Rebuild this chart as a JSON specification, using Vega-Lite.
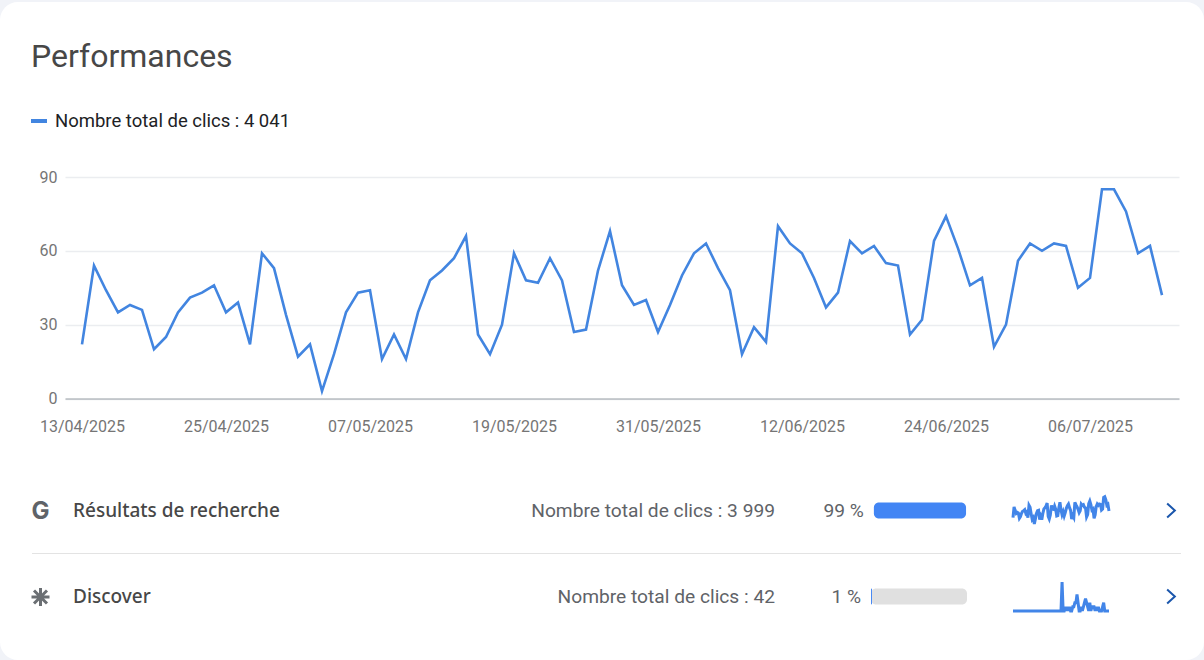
{"$schema":"https://vega.github.io/schema/vega-lite/v6.json","width":1204,"height":660,"autosize":{"type":"fit","contains":"padding"},"padding":{"top":2,"left":0,"right":0,"bottom":0},"background":"#f1f3f8","view":{"fill":"#ffffff","stroke":null,"cornerRadius":18},"title":{"text":"Performances","anchor":"start","frame":"group","orient":"top","offset":-97,"dx":31,"font":"Roboto","fontSize":32,"fontWeight":400,"color":"#474747","baseline":"alphabetic"},"datasets":{"daily":[
{"date":"2025-04-13","total":22,"search":22,"discover":0},{"date":"2025-04-14","total":54,"search":54,"discover":0},{"date":"2025-04-15","total":44,"search":44,"discover":0},{"date":"2025-04-16","total":35,"search":35,"discover":0},{"date":"2025-04-17","total":38,"search":38,"discover":0},{"date":"2025-04-18","total":36,"search":36,"discover":0},{"date":"2025-04-19","total":20,"search":20,"discover":0},{"date":"2025-04-20","total":25,"search":25,"discover":0},{"date":"2025-04-21","total":35,"search":35,"discover":0},{"date":"2025-04-22","total":41,"search":41,"discover":0},{"date":"2025-04-23","total":43,"search":43,"discover":0},{"date":"2025-04-24","total":46,"search":46,"discover":0},{"date":"2025-04-25","total":35,"search":35,"discover":0},{"date":"2025-04-26","total":39,"search":39,"discover":0},{"date":"2025-04-27","total":22,"search":22,"discover":0},{"date":"2025-04-28","total":59,"search":59,"discover":0},{"date":"2025-04-29","total":53,"search":53,"discover":0},{"date":"2025-04-30","total":34,"search":34,"discover":0},
{"date":"2025-05-01","total":17,"search":17,"discover":0},{"date":"2025-05-02","total":22,"search":22,"discover":0},{"date":"2025-05-03","total":3,"search":3,"discover":0},{"date":"2025-05-04","total":18,"search":18,"discover":0},{"date":"2025-05-05","total":35,"search":35,"discover":0},{"date":"2025-05-06","total":43,"search":43,"discover":0},{"date":"2025-05-07","total":44,"search":44,"discover":0},{"date":"2025-05-08","total":16,"search":16,"discover":0},{"date":"2025-05-09","total":26,"search":26,"discover":0},{"date":"2025-05-10","total":16,"search":16,"discover":0},{"date":"2025-05-11","total":35,"search":35,"discover":0},{"date":"2025-05-12","total":48,"search":48,"discover":0},{"date":"2025-05-13","total":52,"search":52,"discover":0},{"date":"2025-05-14","total":57,"search":57,"discover":0},{"date":"2025-05-15","total":66,"search":66,"discover":0},{"date":"2025-05-16","total":26,"search":26,"discover":0},{"date":"2025-05-17","total":18,"search":18,"discover":0},{"date":"2025-05-18","total":30,"search":30,"discover":0},{"date":"2025-05-19","total":59,"search":59,"discover":0},{"date":"2025-05-20","total":48,"search":48,"discover":0},{"date":"2025-05-21","total":47,"search":47,"discover":0},{"date":"2025-05-22","total":57,"search":57,"discover":0},{"date":"2025-05-23","total":48,"search":48,"discover":0},{"date":"2025-05-24","total":27,"search":27,"discover":0},{"date":"2025-05-25","total":28,"search":28,"discover":0},{"date":"2025-05-26","total":52,"search":52,"discover":0},{"date":"2025-05-27","total":68,"search":68,"discover":0},{"date":"2025-05-28","total":46,"search":46,"discover":0},{"date":"2025-05-29","total":38,"search":31,"discover":7},{"date":"2025-05-30","total":40,"search":40,"discover":0},{"date":"2025-05-31","total":27,"search":27,"discover":0},
{"date":"2025-06-01","total":38,"search":37,"discover":1},{"date":"2025-06-02","total":50,"search":50,"discover":0},{"date":"2025-06-03","total":59,"search":58,"discover":1},{"date":"2025-06-04","total":63,"search":63,"discover":0},{"date":"2025-06-05","total":53,"search":52,"discover":1},{"date":"2025-06-06","total":44,"search":44,"discover":0},{"date":"2025-06-07","total":18,"search":18,"discover":0},{"date":"2025-06-08","total":29,"search":28,"discover":1},{"date":"2025-06-09","total":23,"search":22,"discover":1},{"date":"2025-06-10","total":70,"search":68,"discover":2},{"date":"2025-06-11","total":63,"search":61,"discover":2},{"date":"2025-06-12","total":59,"search":55,"discover":4},{"date":"2025-06-13","total":49,"search":47,"discover":2},{"date":"2025-06-14","total":37,"search":37,"discover":0},{"date":"2025-06-15","total":43,"search":43,"discover":0},{"date":"2025-06-16","total":64,"search":63,"discover":1},{"date":"2025-06-17","total":59,"search":59,"discover":0},{"date":"2025-06-18","total":62,"search":61,"discover":1},{"date":"2025-06-19","total":55,"search":53,"discover":2},{"date":"2025-06-20","total":54,"search":51,"discover":3},{"date":"2025-06-21","total":26,"search":24,"discover":2},{"date":"2025-06-22","total":32,"search":31,"discover":1},{"date":"2025-06-23","total":64,"search":64,"discover":0},{"date":"2025-06-24","total":74,"search":72,"discover":2},{"date":"2025-06-25","total":61,"search":61,"discover":0},{"date":"2025-06-26","total":46,"search":45,"discover":1},{"date":"2025-06-27","total":49,"search":48,"discover":1},{"date":"2025-06-28","total":21,"search":20,"discover":1},{"date":"2025-06-29","total":30,"search":30,"discover":0},{"date":"2025-06-30","total":56,"search":55,"discover":1},
{"date":"2025-07-01","total":63,"search":63,"discover":0},{"date":"2025-07-02","total":60,"search":59,"discover":1},{"date":"2025-07-03","total":63,"search":63,"discover":0},{"date":"2025-07-04","total":62,"search":62,"discover":0},{"date":"2025-07-05","total":45,"search":45,"discover":0},{"date":"2025-07-06","total":49,"search":48,"discover":1},{"date":"2025-07-07","total":85,"search":83,"discover":2},{"date":"2025-07-08","total":85,"search":85,"discover":0},{"date":"2025-07-09","total":76,"search":76,"discover":0},{"date":"2025-07-10","total":59,"search":59,"discover":0},{"date":"2025-07-11","total":62,"search":62,"discover":0},{"date":"2025-07-12","total":42,"search":42,"discover":0}],
"rows":[{"source":"Résultats de recherche","clicks":"Nombre total de clics : 3 999","share":"99 %","start":3,"end":99},{"source":"Discover","clicks":"Nombre total de clics : 42","share":"1 %","start":0,"end":100}],
"shareBars":[{"source":"Résultats de recherche","segment":"share","start":3,"end":99},{"source":"Discover","segment":"rest","start":0,"end":100},{"source":"Discover","segment":"share","start":0,"end":1}],
"divider":[{"source":"divider"}]},
"layer":[
{"data":{"name":"daily"},"mark":{"type":"line","strokeWidth":2.6,"strokeJoin":"miter","interpolate":"linear"},"encoding":{
"x":{"field":"date","type":"temporal","title":null,"scale":{"type":"utc","domain":["2025-04-11T14:00:00Z","2025-07-13T10:00:00Z"],"range":[65,1179]},"axis":{"values":["2025-04-13","2025-04-25","2025-05-07","2025-05-19","2025-05-31","2025-06-12","2025-06-24","2025-07-06"],"format":"%d/%m/%Y","offset":-261.5,"grid":false,"ticks":false,"domainColor":"#9aa0a6","domainWidth":1,"labelFont":"Roboto","labelFontSize":16,"labelColor":"#757575","labelPadding":20,"labelFlush":false,"labelOverlap":false}},
"y":{"field":"total","type":"quantitative","title":null,"scale":{"domain":[0,90],"range":[396.5,175]},"axis":{"values":[0,30,60,90],"offset":-65,"grid":true,"gridColor":"#ebedf0","gridWidth":1.3,"ticks":false,"domain":false,"labelFont":"Roboto","labelFontSize":16,"labelColor":"#757575","labelPadding":8}},
"color":{"datum":"Nombre total de clics : 4 041","scale":{"range":["#4285e0"]},"legend":{"title":null,"orient":"none","legendX":29,"legendY":109,"symbolType":"stroke","symbolSize":256,"symbolStrokeWidth":4,"labelFont":"Roboto","labelFontSize":18.5,"labelColor":"#202124","labelOffset":6,"labelLimit":400}}}},
{"data":{"name":"daily"},"mark":{"type":"line","strokeWidth":3,"color":"#4285e8"},"encoding":{"x":{"field":"date","type":"temporal","axis":null,"scale":{"type":"utc","range":[1013,1109]}},"y":{"field":"search","type":"quantitative","axis":null,"scale":{"domain":[0,90],"range":[523,493]}}}},
{"data":{"name":"daily"},"mark":{"type":"line","strokeWidth":3,"color":"#4285e8"},"encoding":{"x":{"field":"date","type":"temporal","axis":null,"scale":{"type":"utc","range":[1013,1109]}},"y":{"field":"discover","type":"quantitative","axis":null,"scale":{"domain":[0,7],"range":[609,580]}}}},
{"data":{"name":"divider"},"mark":{"type":"rule","color":"#e3e3e3","strokeWidth":1},"encoding":{"x":{"datum":0,"type":"quantitative","axis":null,"scale":{"domain":[0,1],"range":[32,1181]}},"x2":{"datum":1},"y":{"field":"source","type":"nominal","axis":null,"scale":{"type":"point","padding":0,"domain":["Résultats de recherche","divider","Discover"],"range":[508.5,594.5]}}}},
{"data":{"name":"rows"},"mark":{"type":"text","font":"Noto Sans","fontSize":19,"fontWeight":500,"align":"left","baseline":"middle","dy":0,"color":"#474747"},"encoding":{"text":{"field":"source"},"x":{"datum":1,"type":"quantitative","axis":null,"scale":{"domain":[0,1,2],"range":[40.5,73,775]}},"y":{"field":"source","type":"nominal","axis":null,"scale":{"type":"point","padding":0,"domain":["Résultats de recherche","divider","Discover"],"range":[508.5,594.5]}}}},
{"data":{"name":"rows"},"mark":{"type":"text","font":"Roboto","fontSize":19.2,"align":"right","baseline":"middle","dy":0,"color":"#5f6368"},"encoding":{"text":{"field":"clicks"},"x":{"datum":2,"type":"quantitative","axis":null,"scale":{"domain":[0,1,2],"range":[40.5,73,775]}},"y":{"field":"source","type":"nominal","axis":null,"scale":{"type":"point","padding":0,"domain":["Résultats de recherche","divider","Discover"],"range":[508.5,594.5]}}}},
{"data":{"name":"rows"},"transform":[{"filter":"datum.source === 'Résultats de recherche'"}],"mark":{"type":"text","text":"G","font":"Inter","fontSize":24,"fontWeight":700,"align":"center","baseline":"middle","dy":1,"color":"#5f6368"},"encoding":{"x":{"datum":0,"type":"quantitative","axis":null,"scale":{"domain":[0,1,2],"range":[40.5,73,775]}},"y":{"field":"source","type":"nominal","axis":null,"scale":{"type":"point","padding":0,"domain":["Résultats de recherche","divider","Discover"],"range":[508.5,594.5]}}}},
{"data":{"name":"rows"},"transform":[{"filter":"datum.source === 'Discover'"}],"mark":{"type":"point","filled":false,"shape":"M-1 0L1 0M0 -1L0 1M-.72 -.72L.72 .72M-.72 .72L.72 -.72","size":324,"strokeWidth":3,"opacity":1,"color":"#6b6f73","yOffset":0.5},"encoding":{"x":{"datum":0,"type":"quantitative","axis":null,"scale":{"domain":[0,1,2],"range":[40.5,73,775]}},"y":{"field":"source","type":"nominal","axis":null,"scale":{"type":"point","padding":0,"domain":["Résultats de recherche","divider","Discover"],"range":[508.5,594.5]}}}},
{"data":{"name":"rows"},"mark":{"type":"point","filled":false,"shape":"M-.55 -1L.55 0L-.55 1","size":196,"strokeWidth":2,"opacity":1,"color":"#1a56ac"},"encoding":{"x":{"datum":0,"type":"quantitative","axis":null,"scale":{"domain":[0,1],"range":[1171,1171]}},"y":{"field":"source","type":"nominal","axis":null,"scale":{"type":"point","padding":0,"domain":["Résultats de recherche","divider","Discover"],"range":[508.5,594.5]}}}},
{"data":{"name":"shareBars"},"mark":{"type":"bar","size":16,"cornerRadius":5},"encoding":{"x":{"field":"start","type":"quantitative","axis":null,"scale":{"domain":[0,100],"range":[871,967]}},"x2":{"field":"end"},"y":{"field":"source","type":"nominal","axis":null,"scale":{"type":"point","padding":0,"domain":["Résultats de recherche","divider","Discover"],"range":[508.5,594.5]}},"color":{"field":"segment","type":"nominal","legend":null,"scale":{"domain":["share","rest"],"range":["#4285f4","#e0e0e0"]}},"order":{"field":"segment","sort":"ascending"}}},
{"data":{"name":"rows"},"mark":{"type":"text","font":"Roboto","fontSize":19.2,"align":"right","baseline":"middle","dx":-10,"dy":0,"color":"#5f6368"},"encoding":{"text":{"field":"share"},"x":{"field":"start","type":"quantitative","axis":null,"scale":{"domain":[0,100],"range":[871,967]}},"y":{"field":"source","type":"nominal","axis":null,"scale":{"type":"point","padding":0,"domain":["Résultats de recherche","divider","Discover"],"range":[508.5,594.5]}}}}
],
"resolve":{"scale":{"x":"independent","y":"independent","color":"independent"},"axis":{"x":"independent","y":"independent"},"legend":{"color":"independent"}}}
